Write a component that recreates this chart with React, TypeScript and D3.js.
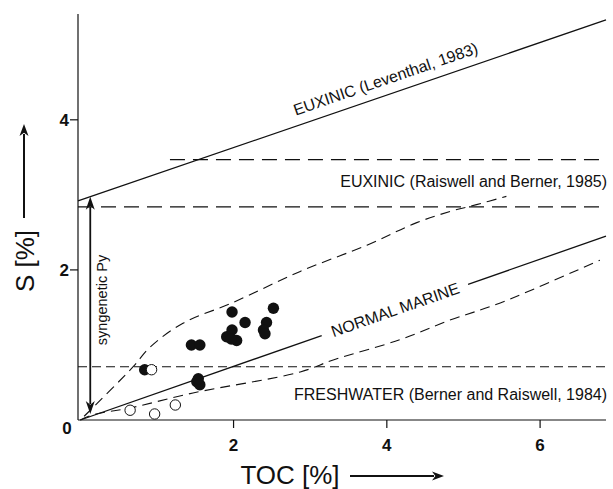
import * as d3 from 'd3';

const W = 613;
const H = 489;

// samples: [TOC %, S %]
const filledPoints: [number, number][] = [
  [0.84, 0.67], [1.45, 1.0], [1.56, 1.0], [1.98, 1.44], [2.15, 1.3],
  [2.52, 1.49], [2.43, 1.3], [2.39, 1.2], [2.41, 1.15], [1.91, 1.11],
  [1.98, 1.2], [2.04, 1.06], [1.97, 1.08], [1.52, 0.51], [1.56, 0.47],
  [1.54, 0.55],
];
const openPoints: [number, number][] = [
  [0.93, 0.67], [0.65, 0.13], [0.97, 0.08], [1.24, 0.2],
];

// dashed envelopes around the sample field
const upperEnvelope: [number, number][] = [
  [0.05, 0.05], [0.13, 0.13], [0.69, 0.71], [0.91, 0.97], [1.34, 1.29], [1.98, 1.56],
  [2.87, 1.98], [3.74, 2.33], [4.39, 2.63], [4.83, 2.78], [5.17, 2.87], [5.56, 2.98],
];
const lowerEnvelope: [number, number][] = [
  [0, 0], [0.17, 0.07], [0.65, 0.16], [1.47, 0.36], [2.87, 0.64], [3.3, 0.8],
  [4.17, 1.07], [4.82, 1.33], [5.48, 1.56], [6.78, 2.13],
];

// reference lines S = a + b * TOC
const leventhal = { intercept: 2.93, slope: 0.35 };
const normalMarine = { intercept: 0, slope: 1 / 2.8 };
const normalMarineGap: [number, number] = [3.15, 5.06]; // TOC range left open for the label

// horizontal levels (S %), starting at TOC
const euxinicLevels = [
  { s: 3.47, from: 1.17 },
  { s: 2.84, from: -0.03 },
];
const freshwaterLevel = 0.71;

const syngeneticTOC = 0.13;
const syngeneticRange: [number, number] = [0.08, 2.975];

const xTicks = [2, 4, 6];
const yTicks = [2, 4];

const FONT = '"Liberation Sans", Arial, Helvetica, sans-serif';

export default function App() {
  const x = d3.scaleLinear().domain([-0.03, 6.86]).range([78, 606]);
  const y = d3.scaleLinear().domain([0, 5.41]).range([420, 14]);
  const [t0, t1] = x.domain();

  const line = d3.line<[number, number]>()
    .x(d => x(d[0]))
    .y(d => y(d[1]))
    .curve(d3.curveCatmullRom.alpha(0.5));
  const straight = d3.line<[number, number]>().x(d => x(d[0])).y(d => y(d[1]));

  const lineAt = (l: {intercept: number, slope: number}, t: number): [number, number] => [t, l.intercept + l.slope * t];
  const angleOf = (l: {intercept: number, slope: number}) => {
    const a = lineAt(l, 0), b = lineAt(l, 5);
    return Math.atan2(y(b[1]) - y(a[1]), x(b[0]) - x(a[0])) * 180 / Math.PI;
  };

  // barbed arrow head, tip at (tx,ty), pointing along angle (deg)
  const arrowHead = (tx: number, ty: number, deg: number, len = 13, half = 4.5) => {
    const r = deg * Math.PI / 180;
    const ux = Math.cos(r), uy = Math.sin(r);
    const px = -uy, py = ux;
    const bx = tx - ux * len, by = ty - uy * len;
    const nx = tx - ux * len * 0.72, ny = ty - uy * len * 0.72;
    return `M${tx},${ty}L${bx + px * half},${by + py * half}L${nx},${ny}L${bx - px * half},${by - py * half}Z`;
  };

  const levAngle = angleOf(leventhal);
  const nmAngle = angleOf(normalMarine);
  const levLabel = lineAt(leventhal, 4.05);
  const nmLabel = lineAt(normalMarine, 4.11);

  const sx = x(syngeneticTOC);
  const sTop = y(syngeneticRange[1]);
  const sBot = y(syngeneticRange[0]);

  return (
    <svg width={W} height={H} viewBox={`0 0 ${W} ${H}`}
      style={{ position: 'absolute', left: 0, top: 0, background: '#fff' }}
      fontFamily={FONT}>
      {/* axes */}
      <line x1={x(t0)} x2={x(t0)} y1={y(0)} y2={y.range()[1]} stroke="#111" strokeWidth={1.2} />
      <line x1={x(t0)} x2={x(t1)} y1={y(0)} y2={y(0)} stroke="#111" strokeWidth={1.2} />
      {xTicks.map(t => (
        <g key={'xt' + t}>
          <line x1={x(t)} x2={x(t)} y1={y(0)} y2={y(0) + 8} stroke="#111" strokeWidth={1.2} />
          <text x={x(t)} y={y(0) + 31} textAnchor="middle" fontSize={17} fontWeight="bold" fill="#111">{t}</text>
        </g>
      ))}
      {yTicks.map(t => (
        <g key={'yt' + t}>
          <line x1={x(t0) - 8} x2={x(t0)} y1={y(t)} y2={y(t)} stroke="#111" strokeWidth={1.2} />
          <text x={x(t0) - 9} y={y(t) + 6} textAnchor="end" fontSize={17} fontWeight="bold" fill="#111">{t}</text>
        </g>
      ))}
      <text x={x(t0) - 11} y={y(0) + 14} textAnchor="middle" fontSize={17} fontWeight="bold" fill="#111">0</text>

      {/* axis titles */}
      <text x={290} y={484} textAnchor="middle" fontSize={26} fill="#111">TOC [%]</text>
      <line x1={350} x2={434} y1={476} y2={476} stroke="#111" strokeWidth={2} />
      <path d={arrowHead(444, 476, 0, 12, 4.5)} fill="#111" />
      <text transform="translate(34,261) rotate(-90)" textAnchor="middle" fontSize={26} fill="#111">S [%]</text>
      <line x1={24} x2={24} y1={218} y2={134} stroke="#111" strokeWidth={2} />
      <path d={arrowHead(24, 124, -90, 12, 4.5)} fill="#111" />

      {/* horizontal reference levels */}
      {euxinicLevels.map(l => (
        <line key={'e' + l.s} x1={x(l.from)} x2={x(t1)} y1={y(l.s)} y2={y(l.s)}
          stroke="#111" strokeWidth={1.1} strokeDasharray="15,8" />
      ))}
      <line x1={x(t0)} x2={x(t1)} y1={y(freshwaterLevel)} y2={y(freshwaterLevel)}
        stroke="#111" strokeWidth={1.1} strokeDasharray="9,5" />

      {/* envelopes */}
      <path d={line(upperEnvelope) ?? ''} fill="none" stroke="#111" strokeWidth={1.1} strokeDasharray="10,6" />
      <path d={line(lowerEnvelope) ?? ''} fill="none" stroke="#111" strokeWidth={1.1} strokeDasharray="10,6" />

      {/* solid reference lines */}
      <path d={straight([lineAt(leventhal, t0), lineAt(leventhal, t1)]) ?? ''} stroke="#111" strokeWidth={1.3} fill="none" />
      <path d={straight([lineAt(normalMarine, 0), lineAt(normalMarine, normalMarineGap[0])]) ?? ''} stroke="#111" strokeWidth={1.3} fill="none" />
      <path d={straight([lineAt(normalMarine, normalMarineGap[1]), lineAt(normalMarine, t1)]) ?? ''} stroke="#111" strokeWidth={1.3} fill="none" />

      {/* line labels */}
      <text transform={`translate(${x(levLabel[0])},${y(levLabel[1])}) rotate(${levAngle})`}
        y={-10} textAnchor="middle" fontSize={16} fill="#111">EUXINIC (Leventhal, 1983)</text>
      <text transform={`translate(${x(nmLabel[0])},${y(nmLabel[1])}) rotate(${nmAngle})`}
        y={5.5} textAnchor="middle" fontSize={16} fill="#111">NORMAL MARINE</text>
      <text x={607} y={187} textAnchor="end" fontSize={16} fill="#111">EUXINIC (Raiswell and Berner, 1985)</text>
      <text x={607} y={400} textAnchor="end" fontSize={16} fill="#111">FRESHWATER (Berner and Raiswell, 1984)</text>

      {/* syngenetic pyrite arrow */}
      <line x1={sx} x2={sx} y1={sTop + 10} y2={sBot - 10} stroke="#111" strokeWidth={1.8} />
      <path d={arrowHead(sx, sTop, -90, 13, 4.5)} fill="#111" />
      <path d={arrowHead(sx, sBot, 90, 13, 4.5)} fill="#111" />
      <text transform={`translate(${sx + 17},300) rotate(-90)`} textAnchor="middle" fontSize={14.5} fill="#111">syngenetic Py</text>

      {/* samples */}
      {filledPoints.map((d, i) => (
        <circle key={'f' + i} cx={x(d[0])} cy={y(d[1])} r={5.7} fill="#111" />
      ))}
      {openPoints.map((d, i) => (
        <circle key={'o' + i} cx={x(d[0])} cy={y(d[1])} r={5.2} fill="#fff" stroke="#111" strokeWidth={1} />
      ))}
    </svg>
  );
}
